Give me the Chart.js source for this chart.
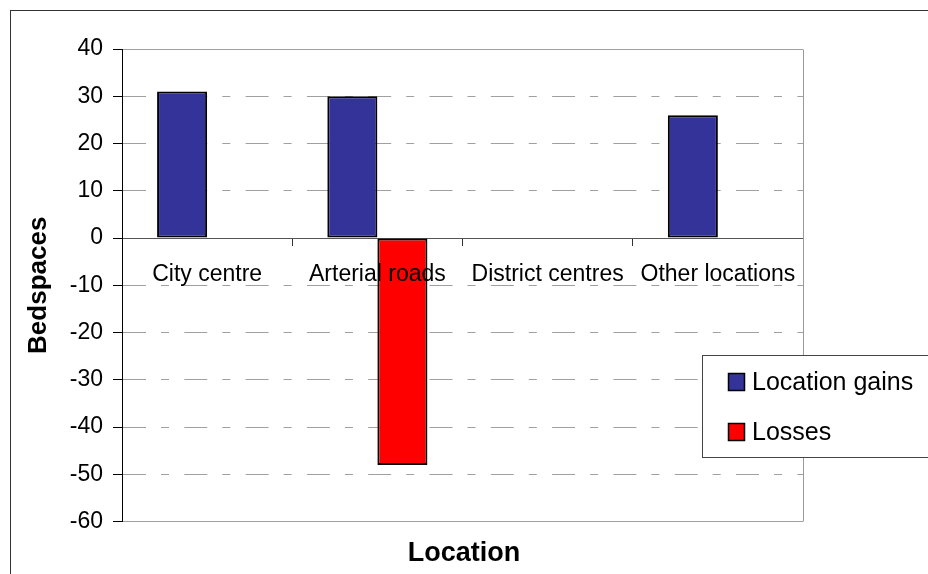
<!DOCTYPE html>
<html>
<head>
<meta charset="utf-8">
<title>Bedspaces by location</title>
<script src="https://cdn.jsdelivr.net/npm/chart.js@4/dist/chart.umd.min.js"></script>
<style>
  html, body { margin: 0; padding: 0; background: #ffffff; }
  #wrap { width: 928px; height: 574px; }
</style>
</head>
<body>
<div id="wrap"><canvas id="chart" width="928" height="574"></canvas></div>
<script>
// Chart data
const categories = ['City centre', 'Arterial roads', 'District centres', 'Other locations'];
const locationGains = [31, 30, null, 26];
const losses = [null, -48, null, null];
const seriesNames = ['Location gains', 'Losses'];
const seriesColors = ['#333399', '#FF0000'];
const yRange = { min: -60, max: 40, step: 10 };
const axisTitles = { x: 'Location', y: 'Bedspaces' };

const FONT = "'Liberation Sans', Arial, Helvetica, sans-serif";
const GRID_DASH = [23, 15, 8, 15.3];

// same half-pixel alignment Chart.js uses for 1px lines
const crisp = (p) => Math.round(p - 0.5) + 0.5;

// white page plus the outer frame around the whole chart
const pageFrame = {
  id: 'pageFrame',
  beforeDraw(chart) {
    const ctx = chart.ctx;
    ctx.save();
    ctx.fillStyle = '#ffffff';
    ctx.fillRect(0, 0, chart.width, chart.height);
    ctx.strokeStyle = '#333333';
    ctx.lineWidth = 1;
    ctx.strokeRect(10.5, 10.5, chart.width + 20, chart.height + 20);
    ctx.restore();
  }
};

// solid grey right edge of the plot area
const plotEdges = {
  id: 'plotEdges',
  beforeDatasetsDraw(chart) {
    const { ctx, chartArea: a } = chart;
    ctx.save();
    ctx.strokeStyle = '#9a9a9a';
    ctx.lineWidth = 1;
    ctx.beginPath();
    ctx.moveTo(crisp(a.right), crisp(a.top));
    ctx.lineTo(crisp(a.right), crisp(a.bottom));
    ctx.stroke();
    ctx.restore();
  }
};

// boxed legend on the right, built from the datasets
const boxLegend = {
  id: 'boxLegend',
  afterDraw(chart) {
    const ctx = chart.ctx;
    const bx = 702, by = 355, bh = 102;
    ctx.save();
    ctx.fillStyle = '#ffffff';
    ctx.fillRect(bx, by, chart.width - bx + 20, bh);
    ctx.strokeStyle = '#444444';
    ctx.lineWidth = 1;
    ctx.strokeRect(bx + 0.5, by + 0.5, chart.width - bx + 20, bh);
    ctx.font = '25px ' + FONT;
    ctx.textBaseline = 'middle';
    ctx.textAlign = 'left';
    chart.data.datasets.forEach((ds, i) => {
      const cy = by + 27 + i * 50;
      ctx.fillStyle = ds.backgroundColor;
      ctx.fillRect(728.5, cy - 8.5, 16, 17);
      ctx.strokeStyle = '#000000';
      ctx.lineWidth = 1.5;
      ctx.strokeRect(728.5, cy - 8.5, 16, 17);
      ctx.fillStyle = '#000000';
      ctx.fillText(ds.label, 752, cy + 1);
    });
    ctx.restore();
  }
};

new Chart(document.getElementById('chart'), {
  type: 'bar',
  data: {
    labels: categories,
    datasets: [
      { label: seriesNames[0], data: locationGains, backgroundColor: seriesColors[0], borderColor: '#000000', borderWidth: 2, borderSkipped: false, inflateAmount: 0 },
      { label: seriesNames[1], data: losses, backgroundColor: seriesColors[1], borderColor: '#000000', borderWidth: 2, borderSkipped: false, inflateAmount: 0 }
    ]
  },
  options: {
    responsive: false,
    devicePixelRatio: 1,
    animation: false,
    layout: { padding: { left: 0, right: 0, top: 49, bottom: 0 } },
    datasets: { bar: { categoryPercentage: 0.588, barPercentage: 1.0 } },
    plugins: {
      legend: { display: false },
      tooltip: { enabled: false },
      title: {
        display: true,
        position: 'bottom',
        text: axisTitles.x,
        color: '#000000',
        font: { family: FONT, size: 27, weight: 'bold' },
        padding: { top: 16, bottom: 4 }
      }
    },
    scales: {
      x: {
        position: { y: 0 },
        offset: true,
        grid: {
          offset: true,
          drawOnChartArea: false,
          drawTicks: true,
          tickLength: 7,
          tickColor: '#333333'
        },
        border: { display: true, color: '#555555', width: 1 },
        ticks: {
          z: 1,
          color: '#000000',
          font: { family: FONT, size: 23 },
          padding: 16,
          maxRotation: 0,
          autoSkip: false
        }
      },
      y: {
        min: yRange.min,
        max: yRange.max,
        afterFit(scale) { scale.width = 122; },
        grid: {
          color: '#a0a0a0',
          lineWidth: 1,
          drawTicks: true,
          tickLength: 9,
          tickColor: '#000000'
        },
        border: {
          display: true,
          color: '#000000',
          width: 1,
          // top and bottom lines of the plot are solid, the rest dashed
          dash: (ctx) => (ctx.tick && (ctx.tick.value === yRange.min || ctx.tick.value === yRange.max)) ? [] : GRID_DASH
        },
        ticks: {
          stepSize: yRange.step,
          color: '#000000',
          font: { family: FONT, size: 23 },
          padding: 10
        },
        title: {
          display: true,
          text: axisTitles.y,
          color: '#000000',
          font: { family: FONT, size: 26, weight: 'bold' },
          padding: { top: 23, bottom: 0 }
        }
      },
      // blank right-hand strip that holds space for the legend box
      legendSpace: {
        type: 'linear',
        position: 'right',
        afterFit(scale) { scale.width = 125; },
        grid: { display: false, drawOnChartArea: false },
        border: { display: false },
        ticks: { display: false }
      }
    }
  },
  plugins: [pageFrame, plotEdges, boxLegend]
});
</script>
</body>
</html>
